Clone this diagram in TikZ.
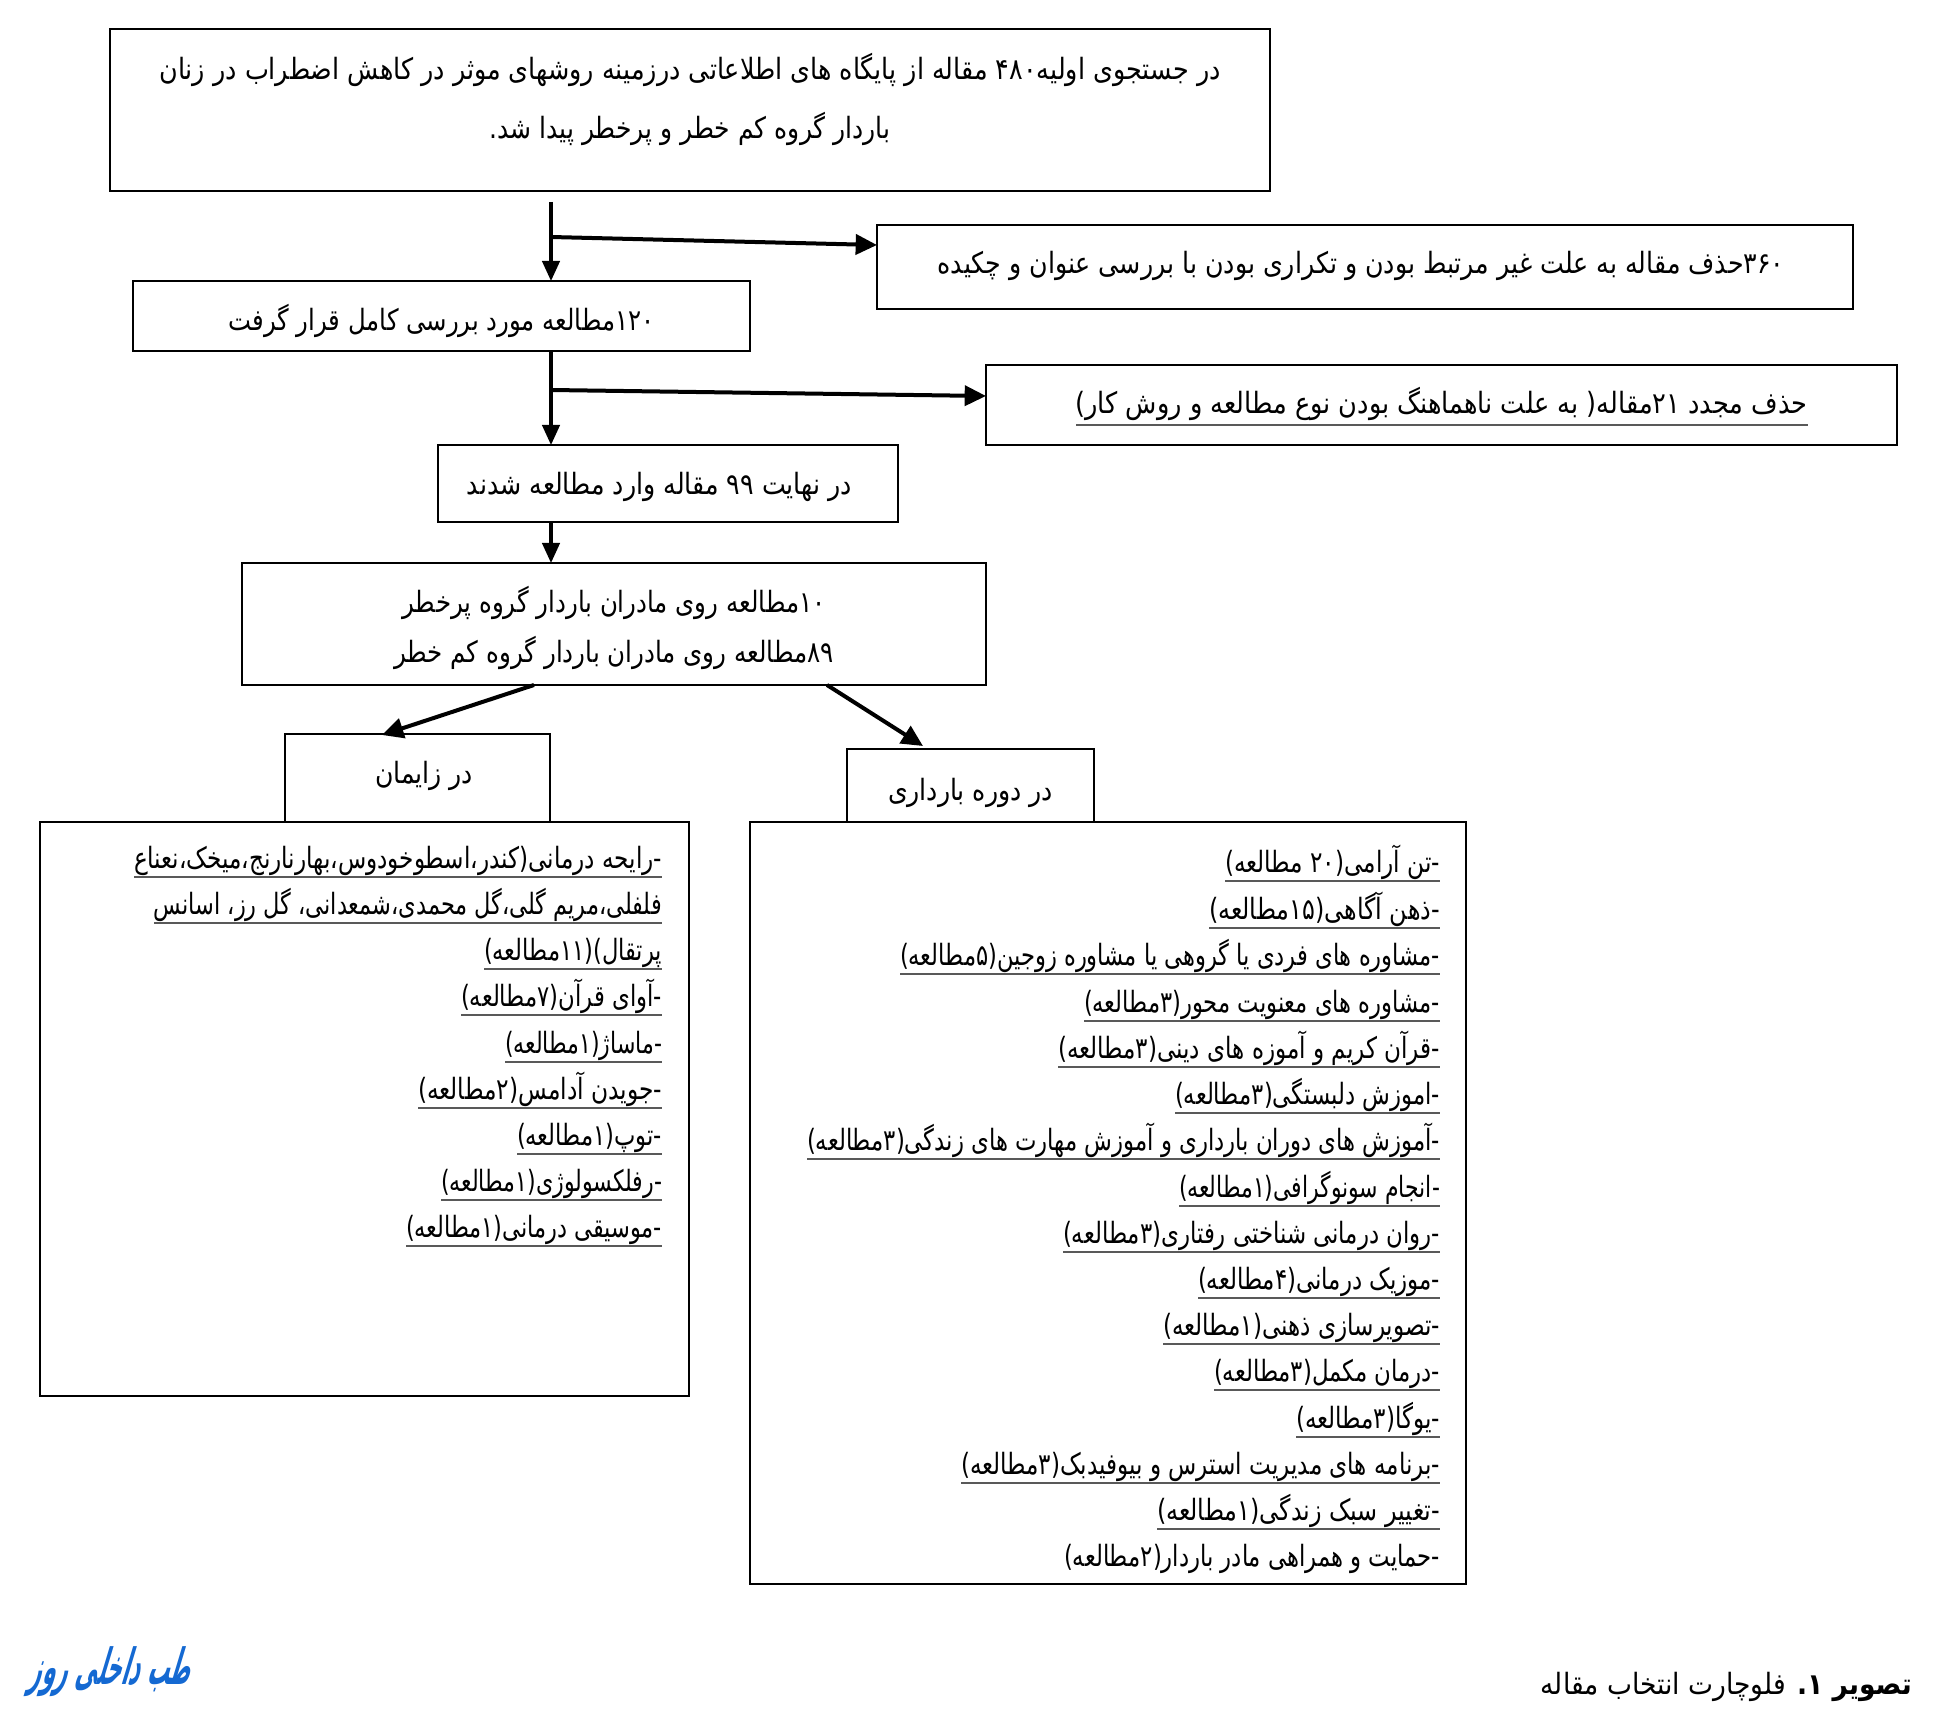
\documentclass[tikz,border=0pt]{standalone}
\usepackage{fontspec}
\usetikzlibrary{arrows.meta,calc}
\TeXXeTstate=1
\newfontfamily\arabicfont[Script=Arabic]{DejaVu Sans}
\definecolor{ulgray}{gray}{0.35}
\definecolor{wmblue}{RGB}{20,105,210}
\newsavebox\fitbox
\newcommand\LL[1]{\beginL #1\endL}
% \fitw{width in px}{text}: line horizontally scaled to the reference's width
\newcommand\fitw[2]{\sbox\fitbox{\arabicfont\fontsize{22}{26}\selectfont #2}%
  \pgfmathsetmacro\fitr{#1*0.75/\wd\fitbox}\scalebox{\fitr}[1]{\usebox\fitbox}}
% \bx{name}{x0}{y0}{x1}{y1}{baseline}{content}
\newcommand\bx[7]{\pgfmathsetmacro\bxw{(#4-#2)*0.75}\pgfmathsetmacro\bxh{(#6-#3)*0.75}\pgfmathsetmacro\bxd{(#5-#6)*0.75}%
  \node[flowbox,minimum width=\bxw pt,text height=\bxh pt,text depth=\bxd pt] (#1) at (#2,#3) {#7};}
% \lineitem{name}{right x}{underline y}{left x}{text}
\newcommand\lineitem[5]{\pgfmathsetmacro\liw{#2-#4}\pgfmathsetmacro\lib{#3-9}%
  \node[listline] (#1) at (#2,\lib) {\fitw{\liw}{#5}};
  \draw[underl] (#4,#3) -- (#2,#3);}
\tikzset{
  x=0.75pt,y=-0.75pt,
  flowbox/.style={draw=black,line width=1.9pt,anchor=north west,inner sep=0pt,outer sep=0pt,fill=none},
  listline/.style={anchor=base east,inner sep=0pt,outer sep=0pt},
  underl/.style={draw=ulgray,line width=1.1pt},
  flowarrow/.style={draw=black,line width=2.4pt,-{Triangle[length=15pt,width=13pt]}},
  brancharrow/.style={draw=black,line width=3pt,-{Triangle[length=16pt,width=15pt]}},
}
\begin{document}
\begin{tikzpicture}
\useasboundingbox[fill=white] (0,0) rectangle (1953,1715);
\bx{b1}{110}{29}{1270}{191}{80}{\makebox[0pt]{\raisebox{-44pt}[0pt][0pt]{\fitw{401}{\beginR باردار گروه کم خطر و پرخطر پیدا شد.\endR}}}\makebox[0pt]{\fitw{1061}{\beginR در جستجوی اولیه\LL{۴۸۰} مقاله از پایگاه های اطلاعاتی درزمینه روشهای موثر در کاهش اضطراب در زنان\endR}}}
\bx{b2}{877}{225}{1853}{309}{274}{\hspace*{-6pt}\fitw{847}{\beginR\LL{۳۶۰}حذف مقاله به علت غیر مرتبط بودن و تکراری بودن با بررسی عنوان و چکیده\endR}}
\bx{b3}{133}{281}{750}{351}{331}{\fitw{426}{\beginR\LL{۱۲۰}مطالعه مورد بررسی کامل قرار گرفت\endR}}
\bx{b4}{986}{365}{1897}{445}{414}{\fitw{732}{\beginR حذف مجدد \LL{۲۱}مقاله( به علت ناهماهنگ بودن نوع مطالعه و روش کار)\endR}}
\draw[underl] (1076,425) -- (1808,425);
\bx{b5}{438}{445}{898}{522}{495}{\hspace*{-13pt}\fitw{385}{\beginR در نهایت \LL{۹۹} مقاله وارد مطالعه شدند\endR}}
\bx{b6}{242}{563}{986}{685}{613}{\makebox[0pt]{\raisebox{-37.5pt}[0pt][0pt]{\fitw{440}{\beginR\LL{۸۹}مطالعه روی مادران باردار گروه کم خطر\endR}}}\makebox[0pt]{\fitw{423}{\beginR\LL{۱۰}مطالعه روی مادران باردار گروه پرخطر\endR}}}
\bx{b7}{285}{734}{550}{822}{783}{\hspace*{10pt}\fitw{98}{\beginR در زایمان\endR}}
\bx{b8}{847}{749}{1094}{822}{800}{\fitw{165}{\beginR در دوره بارداری\endR}}
\bx{b9}{40}{822}{689}{1396}{1000}{}
\bx{b10}{750}{822}{1466}{1584}{1000}{}
% left list
\lineitem{l1}{662}{877}{134}{\beginR -رایحه درمانی(کندر،اسطوخودوس،بهارنارنج،میخک،نعناع\endR}
\lineitem{l2}{662}{923}{154}{\beginR فلفلی،مریم گلی،گل محمدی،شمعدانی، گل رز، اسانس\endR}
\lineitem{l3}{662}{969}{484}{\beginR پرتقال)(\LL{۱۱}مطالعه)\endR}
\lineitem{l4}{662}{1015}{461}{\beginR -آوای قرآن(\LL{۷}مطالعه)\endR}
\lineitem{l5}{662}{1062}{505}{\beginR -ماساژ(\LL{۱}مطالعه)\endR}
\lineitem{l6}{662}{1108}{418}{\beginR -جویدن آدامس(\LL{۲}مطالعه)\endR}
\lineitem{l7}{662}{1154}{517}{\beginR -توپ(\LL{۱}مطالعه)\endR}
\lineitem{l8}{662}{1200}{441}{\beginR -رفلکسولوژی(\LL{۱}مطالعه)\endR}
\lineitem{l9}{662}{1246}{406}{\beginR -موسیقی درمانی(\LL{۱}مطالعه)\endR}
% right list
\lineitem{r1}{1440}{881}{1225}{\beginR -تن آرامی(\LL{۲۰} مطالعه)\endR}
\lineitem{r2}{1440}{928}{1209}{\beginR -ذهن آگاهی(\LL{۱۵}مطالعه)\endR}
\lineitem{r3}{1440}{974}{900}{\beginR -مشاوره های فردی یا گروهی یا مشاوره زوجین(\LL{۵}مطالعه)\endR}
\lineitem{r4}{1440}{1021}{1084}{\beginR -مشاوره های معنویت محور(\LL{۳}مطالعه)\endR}
\lineitem{r5}{1440}{1067}{1058}{\beginR -قرآن کریم و آموزه های دینی(\LL{۳}مطالعه)\endR}
\lineitem{r6}{1440}{1113}{1175}{\beginR -اموزش دلبستگی(\LL{۳}مطالعه)\endR}
\lineitem{r7}{1440}{1159}{807}{\beginR -آموزش های دوران بارداری و آموزش مهارت های زندگی(\LL{۳}مطالعه)\endR}
\lineitem{r8}{1440}{1206}{1179}{\beginR -انجام سونوگرافی(\LL{۱}مطالعه)\endR}
\lineitem{r9}{1440}{1252}{1063}{\beginR -روان درمانی شناختی رفتاری(\LL{۳}مطالعه)\endR}
\lineitem{r10}{1440}{1298}{1198}{\beginR -موزیک درمانی(\LL{۴}مطالعه)\endR}
\lineitem{r11}{1440}{1344}{1163}{\beginR -تصویرسازی ذهنی(\LL{۱}مطالعه)\endR}
\lineitem{r12}{1440}{1390}{1214}{\beginR -درمان مکمل(\LL{۳}مطالعه)\endR}
\lineitem{r13}{1440}{1437}{1296}{\beginR -یوگا(\LL{۳}مطالعه)\endR}
\lineitem{r14}{1440}{1483}{961}{\beginR -برنامه های مدیریت استرس و بیوفیدبک(\LL{۳}مطالعه)\endR}
\lineitem{r15}{1440}{1529}{1157}{\beginR -تغییر سبک زندگی(\LL{۱}مطالعه)\endR}
\pgfmathsetmacro\liw{1440-1064}
\node[listline] (r16) at (1440,1566) {\fitw{\liw}{\beginR -حمایت و همراهی مادر باردار(\LL{۲}مطالعه)\endR}};
% connectors
\coordinate (s1) at (551,202);
\coordinate (j1) at (551,237);
\coordinate (j2) at (551,390);
\draw[flowarrow] (s1) -- (b3.north -| s1);
\draw[brancharrow] (j1) -- ([yshift=16.5pt]b2.west);
\draw[flowarrow] (b3.south -| s1) -- (b5.north -| s1);
\draw[brancharrow] (j2) -- ([yshift=6.75pt]b4.west);
\draw[flowarrow] (b5.south -| s1) -- (b6.north -| s1);
\coordinate (d1) at (534,685); \coordinate (d2) at (382,735);
\coordinate (d3) at (827,685); \coordinate (d4) at (923,746);
\draw[brancharrow] (d1) -- (d2);
\draw[brancharrow] (d3) -- (d4);
% watermark and caption
\node[anchor=base,inner sep=0pt,text=wmblue,xslant=0.3,transform shape] (wm) at (109,1684) {\bfseries\scalebox{1}[1.7]{\fitw{160}{\beginR طب داخلی روز\endR}}};
\node[anchor=base east,inner sep=0pt] (cap) at (1912,1694) {\fitw{371}{\beginR\textbf{تصویر \LL{۱}.} فلوچارت انتخاب مقاله\endR}};
\end{tikzpicture}
\end{document}
